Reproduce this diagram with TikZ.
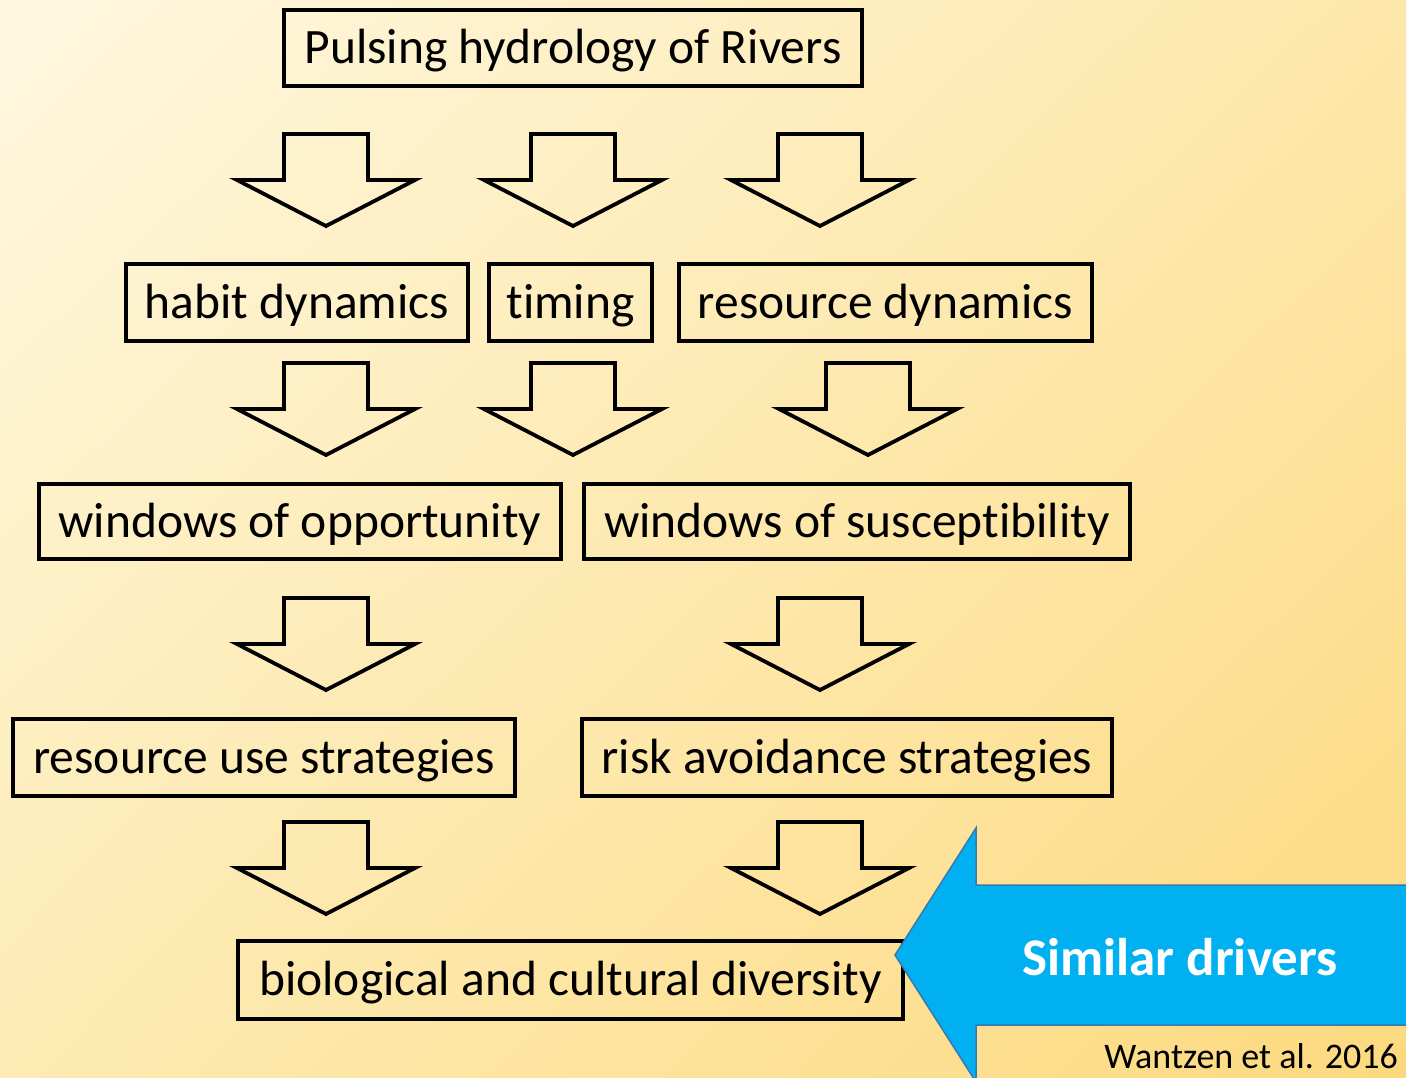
\documentclass[tikz,border=0pt]{standalone}
\usepackage{fontspec}
\setmainfont[Ligatures=NoCommon]{Carlito}
\usetikzlibrary{shadings}
\definecolor{bgtl}{HTML}{FFF8E1}
\definecolor{bgtr}{HTML}{FDE7AA}
\definecolor{bgbl}{HTML}{FDEBB4}
\definecolor{bgbr}{HTML}{FCD97E}
\definecolor{arrowblue}{HTML}{00B0F0}
\definecolor{arrowedge}{HTML}{3A78B0}
\begin{document}
\begin{tikzpicture}[x=1pt,y=-1pt,
  box/.style={draw=black, line width=3.6pt, inner sep=0pt, text height=36pt, text depth=5pt,
    font=\fontsize{49.5}{58}\selectfont},
  dnarrow/.pic={\draw[line width=3.8pt, line join=miter]
      (-42,0) -- (42,0) -- (42,46) -- (89,46) -- (0,92) -- (-89,46) -- (-42,46) -- cycle;},
]
\useasboundingbox (0,0) rectangle (1406,1077);
\clip (0,0) rectangle (1406,1077);

% warm background wash
\shade[upper left=bgtl, upper right=bgtr, lower left=bgbl, lower right=bgbr]
  (0,0) rectangle (1406,1077);

% boxes
\node[box, minimum width=578pt, minimum height=76pt] (pulse) at (573,48) {Pulsing hydrology of Rivers};
\node[box, minimum width=342pt, minimum height=77pt] (habit) at (297,302.5) {habit dynamics};
\node[box, minimum width=163pt, minimum height=77pt] (timing) at (570.5,302.5) {timing};
\node[box, minimum width=413pt, minimum height=77pt] (resdyn) at (885.5,302.5) {resource dynamics};
\node[box, minimum width=522pt, minimum height=75pt] (opp) at (300,521.5) {windows of opportunity};
\node[box, minimum width=546pt, minimum height=75pt] (susc) at (857,521.5) {windows of susceptibility};
\node[box, minimum width=502pt, minimum height=77pt] (resuse) at (264,757.5) {resource use strategies};
\node[box, minimum width=530pt, minimum height=77pt] (risk) at (847,757.5) {risk avoidance strategies};
\node[box, minimum width=665pt, minimum height=78pt] (bio) at (570.5,980) {biological and cultural diversity};

% hollow block arrows between the levels
\pic at (326,134) {dnarrow};
\pic at (573,134) {dnarrow};
\pic at (820,134) {dnarrow};
\pic at (326,363) {dnarrow};
\pic at (573,363) {dnarrow};
\pic at (868,363) {dnarrow};
\pic at (326,598) {dnarrow};
\pic at (820,598) {dnarrow};
\pic at (326,822) {dnarrow};
\pic at (820,822) {dnarrow};

% large blue arrow pointing at the bottom box
\draw[fill=arrowblue, draw=arrowedge, line width=1.5pt, line join=miter]
  (895,955) -- (976,828) -- (976,885) -- (1420,885) -- (1420,1025)
  -- (976,1025) -- (976,1082) -- cycle;
\node[text=white, font=\fontsize{53}{60}\bfseries\selectfont] (drivers) at (1180,957) {Similar drivers};

% reference
\node[anchor=base east, font=\fontsize{36}{42}\selectfont, inner sep=0pt] (cite) at (1398,1068) {Wantzen et al. 2016};
\end{tikzpicture}
\end{document}
